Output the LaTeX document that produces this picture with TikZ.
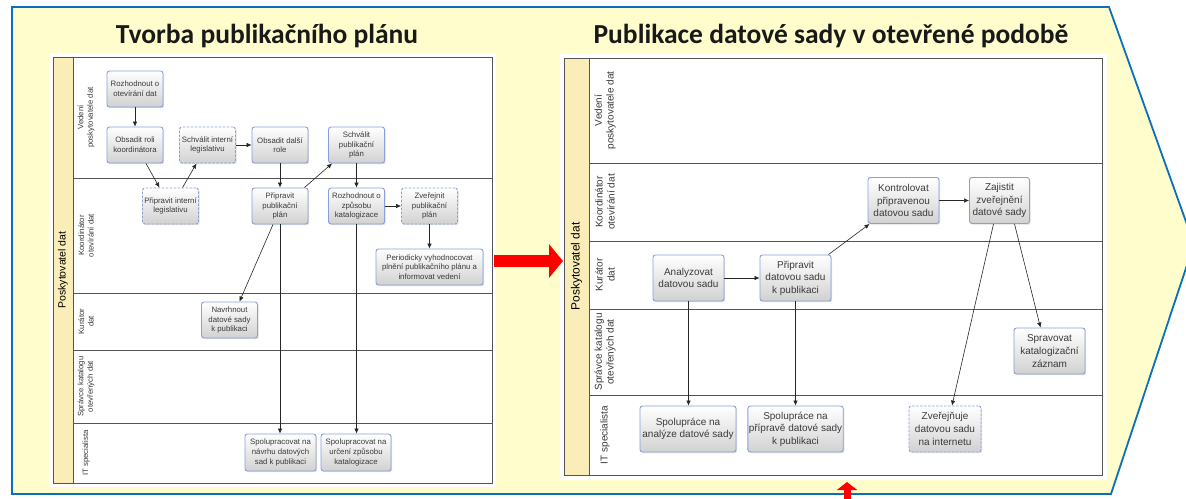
\documentclass[tikz,border=0pt]{standalone}
\usepackage{fontspec}
\setmainfont{Liberation Sans}
\newfontfamily\titlefont{Carlito}
\usepackage{tikz}
\usetikzlibrary{arrows.meta,shadows}
\definecolor{PanelYellow}{HTML}{FFFDCC}
\definecolor{PanelBlue}{HTML}{0A6FC2}
\definecolor{LaneBand}{HTML}{FAEDB8}
\definecolor{LaneLine}{HTML}{555555}
\definecolor{TaskLine}{HTML}{8A9FDA}
\definecolor{TaskText}{HTML}{3A3A3A}

\begin{document}
\begin{tikzpicture}[x=1pt,y=-1pt,
    task/.style={rounded corners=2.5pt,draw=TaskLine,line width=.9pt,
                 top color=white,bottom color=black!18,text=TaskText,
                 align=center,inner sep=1pt,
                 drop shadow={opacity=.25,shadow xshift=1.2pt,shadow yshift=-1.2pt}},
    plantask/.style={task,font=\fontsize{7.8}{9.6}\selectfont,minimum width=56pt,minimum height=36pt},
    pubtask/.style={task,font=\fontsize{10}{12.6}\selectfont,minimum width=71pt,minimum height=46pt},
    pending/.style={dash pattern=on 2.5pt off 1.5pt},
    flow/.style={-{Latex[length=5pt,width=4.5pt]},line width=.6pt,black!85},
    lane/.style={draw=LaneLine,line width=.9pt},
    lanetext/.style={rotate=90,align=center,text=TaskText,inner sep=0pt},
    title/.style={font=\titlefont\bfseries\fontsize{27.5}{31}\selectfont,anchor=base,text=black!90},
    handoff/.style={draw=red,line width=12pt,-{Triangle[length=14pt,width=33pt]}}]
  \useasboundingbox (0,0) rectangle (1186,498);
  \draw[fill=PanelYellow,draw=PanelBlue,line width=1.8pt]
    (12,7) -- (1109,7) -- (1194,244) -- (1111,494) -- (12,494) -- cycle;

  \node[title] (planTitle) at (267,43) {Tvorba publikačního plánu};
  \node[title] (pubTitle) at (831,43) {Publikace datové sady v otevřené podobě};

  % tvorba planu
  \fill[white] (49,53) rectangle (496,487);
  \fill[LaneBand] (53,57) rectangle (73,483);
  \draw[lane] (53,57) rectangle (492,483);
  \draw[lane] (73,57) -- (73,483);
  \foreach \y in {178,293,350,423}
    \draw[lane] (73,\y) -- (492,\y);
  \node[lanetext,text=black,font=\fontsize{10.5}{12}\selectfont] (planOwner) at (63,270) {Poskytovatel dat};
  \foreach \y/\t [count=\i] in {117.5/{Vedení\\poskytovatele dat},235.5/{Koordinátor\\otevírání dat},
      321.5/{Kurátor\\dat},386.5/{Správce katalogu\\otevřených dat},453/{IT specialista}}
    \node[lanetext,font=\fontsize{7.8}{9.4}\selectfont] (planLane\i) at (86,\y) {\t};

  \node[plantask] (rozhodnout) at (135,89) {Rozhodnout o\\otevírání dat};
  \node[plantask] (obsadRoli) at (135,145) {Obsadit roli\\koordinátora};
  \node[plantask,pending] (schvalLeg) at (207.5,145) {Schválit interní\\legislativu};
  \node[plantask] (obsadRole) at (280,145) {Obsadit další\\role};
  \node[plantask] (schvalPlan) at (356.5,145) {Schválit\\publikační\\plán};
  \node[plantask,pending] (pripravLeg) at (170.5,206) {Připravit interní\\legislativu};
  \node[plantask] (pripravPlan) at (280,206) {Připravit\\publikační\\plán};
  \node[plantask] (rozhodKat) at (356.5,206) {Rozhodnout o\\způsobu\\katalogizace};
  \node[plantask,pending] (zverejPlan) at (429.5,206) {Zveřejnit\\publikační\\plán};
  \node[plantask,minimum width=107pt] (periodicky) at (429.5,267) {Periodicky vyhodnocovat\\plnění publikačního plánu a\\informovat vedení};
  \node[plantask] (navrhnout) at (229.5,320) {Navrhnout\\datové sady\\k publikaci};
  \node[plantask,minimum width=71pt,minimum height=37pt] (spoluNavrh) at (280.5,452.5) {Spolupracovat na\\návrhu datových\\sad k publikaci};
  \node[plantask,minimum width=70pt,minimum height=37pt] (spoluKat) at (356,452.5) {Spolupracovat na\\určení způsobu\\katalogizace};

  \draw[flow] (rozhodnout) -- (obsadRoli);
  \draw[flow] ([xshift=11pt]obsadRoli.south) -- ([xshift=-11pt]pripravLeg.north);
  \draw[flow] ([xshift=12pt]pripravLeg.north) -- ([xshift=-11pt]schvalLeg.south);
  \draw[flow] (schvalLeg) -- (obsadRole);
  \draw[flow] (obsadRole) -- (pripravPlan);
  \draw[flow] ([xshift=-4pt]pripravPlan.north east) -- ([xshift=4pt]schvalPlan.south west);
  \draw[flow] (schvalPlan) -- (rozhodKat);
  \draw[flow] (rozhodKat) -- (zverejPlan);
  \draw[flow] (zverejPlan) -- (periodicky);
  \draw[flow] ([xshift=-7pt]pripravPlan.south) -- ([xshift=10pt]navrhnout.north);
  \draw[flow] (pripravPlan.south) -- (pripravPlan.south |- spoluNavrh.north);
  \draw[flow] (rozhodKat.south) -- (rozhodKat.south |- spoluKat.north);

  % publikace datove sady
  \fill[white] (560,54) rectangle (1107,480);
  \fill[LaneBand] (564,58) rectangle (589,475);
  \draw[lane] (564,58) rectangle (1102,475);
  \draw[lane] (589,58) -- (589,475);
  \foreach \y in {163,241,309,395}
    \draw[lane] (589,\y) -- (1102,\y);
  \node[lanetext,text=black,font=\fontsize{12}{14}\selectfont] (pubOwner) at (576.5,266.5) {Poskytovatel dat};
  \foreach \y/\t [count=\i] in {110.5/{Vedení\\poskytovatele dat},202/{Koordinátor\\otevírání dat},
      275/{Kurátor\\dat},352/{Správce katalogu\\otevřených dat},435/{IT specialista}}
    \node[lanetext,font=\fontsize{10}{11.8}\selectfont] (pubLane\i) at (605,\y) {\t};

  \node[pubtask] (analyz) at (688.5,278) {Analyzovat\\datovou sadu};
  \node[pubtask] (pripravSada) at (795.5,278) {Připravit\\datovou sadu\\k publikaci};
  \node[pubtask] (kontrola) at (903.5,200.5) {Kontrolovat\\připravenou\\datovou sadu};
  \node[pubtask,minimum width=60pt] (zajistit) at (999.5,200.5) {Zajistit\\zveřejnění\\datové sady};
  \node[pubtask] (spravovat) at (1049.5,351) {Spravovat\\katalogizační\\záznam};
  \node[pubtask,minimum width=96pt] (spoluAnal) at (688,429) {Spolupráce na\\analýze datové sady};
  \node[pubtask,minimum width=95pt] (spoluPrip) at (795.5,429) {Spolupráce na\\přípravě datové sady\\k publikaci};
  \node[pubtask,pending,minimum width=72pt] (zverejnuje) at (945,429) {Zveřejňuje\\datovou sadu\\na internetu};

  \draw[flow] (analyz) -- (pripravSada);
  \draw[flow] ([xshift=-3pt]pripravSada.north east) -- ([xshift=2pt]kontrola.south west);
  \draw[flow] (kontrola) -- (zajistit);
  \draw[flow] ([xshift=15pt]zajistit.south) -- ([xshift=-9pt]spravovat.north);
  \draw[flow] ([xshift=-6pt]zajistit.south) -- ([xshift=7pt]zverejnuje.north);
  \draw[flow] (analyz.south) -- (analyz.south |- spoluAnal.north);
  \draw[flow] (pripravSada.south) -- (pripravSada.south |- spoluPrip.north);

  % presun mezi fazemi
  \coordinate (planOut) at (494,261);
  \coordinate (pubIn) at (563,261);
  \draw[handoff] (planOut) -- (pubIn);
  \coordinate (bottomIn) at (847,500);
  \coordinate (pubBottom) at (847,482);
  \draw[draw=red,line width=7pt,-{Triangle[length=8pt,width=20pt]}] (bottomIn) -- (pubBottom);
\end{tikzpicture}
\end{document}
